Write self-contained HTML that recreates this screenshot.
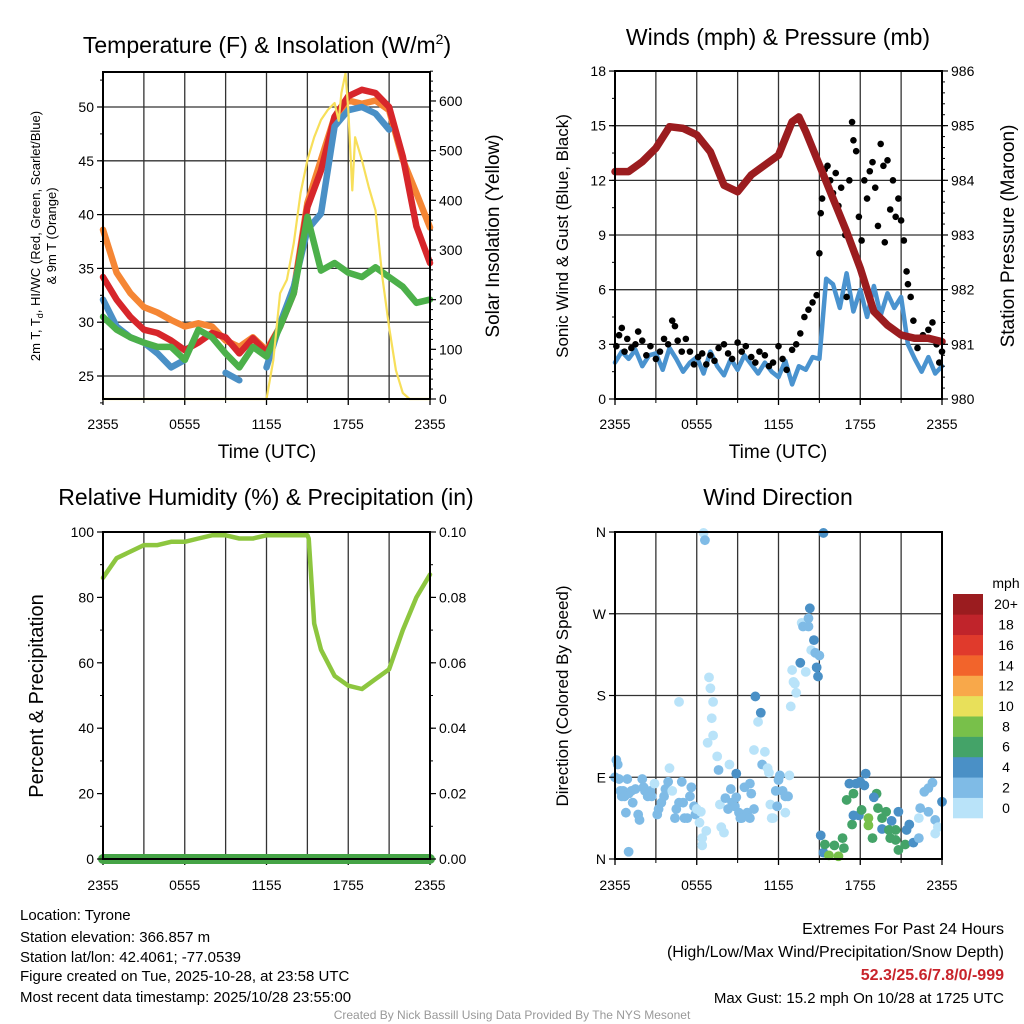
<!DOCTYPE html>
<html><head><meta charset="utf-8"><style>
html,body{margin:0;padding:0;background:#fff;}
svg{display:block;font-family:"Liberation Sans",Arial,sans-serif;}
</style></head><body>
<svg id="c" width="1024" height="1024" viewBox="0 0 1024 1024" xmlns="http://www.w3.org/2000/svg">
<rect x="0" y="0" width="1024" height="1024" fill="#fff"/>
<text x="267" y="53" font-size="23" text-anchor="middle">Temperature (F) &amp; Insolation (W/m<tspan font-size="14" dy="-9">2</tspan><tspan dy="9">)</tspan></text>
<text x="778" y="45" font-size="23" text-anchor="middle">Winds (mph) &amp; Pressure (mb)</text>
<text x="266" y="505" font-size="23" text-anchor="middle">Relative Humidity (%) &amp; Precipitation (in)</text>
<text x="778" y="505" font-size="23" text-anchor="middle">Wind Direction</text>
<text x="267" y="458" font-size="19" text-anchor="middle">Time (UTC)</text>
<text x="778" y="458" font-size="19" text-anchor="middle">Time (UTC)</text>
<text transform="translate(40,236) rotate(-90)" font-size="13" text-anchor="middle">2m T, T<tspan font-size="9" dy="3">d</tspan><tspan dy="-3">, HI/WC (Red, Green, Scarlet/Blue)</tspan></text>
<text transform="translate(56,236) rotate(-90)" font-size="13" text-anchor="middle">&amp; 9m T (Orange)</text>
<text transform="translate(499,236) rotate(-90)" font-size="19" text-anchor="middle">Solar Insolation (Yellow)</text>
<text transform="translate(568,236) rotate(-90)" font-size="17" text-anchor="middle">Sonic Wind &amp; Gust (Blue, Black)</text>
<text transform="translate(1014,236) rotate(-90)" font-size="19" text-anchor="middle">Station Pressure (Maroon)</text>
<text transform="translate(43,696) rotate(-90)" font-size="20" text-anchor="middle">Percent &amp; Precipitation</text>
<text transform="translate(568,696) rotate(-90)" font-size="17" text-anchor="middle">Direction (Colored By Speed)</text>
<g id="info" font-size="15">
<text x="20" y="920">Location: Tyrone</text>
<text x="20" y="942">Station elevation: 366.857 m</text>
<text x="20" y="962">Station lat/lon: 42.4061; -77.0539</text>
<text x="20" y="981">Figure created on Tue, 2025-10-28, at 23:58 UTC</text>
<text x="20" y="1002">Most recent data timestamp: 2025/10/28 23:55:00</text>
</g>
<g font-size="16" text-anchor="end">
<text x="1004" y="934">Extremes For Past 24 Hours</text>
<text x="1004" y="957">(High/Low/Max Wind/Precipitation/Snow Depth)</text>
<text x="1004" y="980" font-weight="bold" fill="#c8242b">52.3/25.6/7.8/0/-999</text>
<text x="1004" y="1003" font-size="15">Max Gust: 15.2 mph On 10/28 at 1725 UTC</text>
</g>
<text x="512" y="1019" font-size="12" fill="#999" text-anchor="middle">Created By Nick Bassill Using Data Provided By The NYS Mesonet</text>
</svg>
<script>
// ---- Panel 1 data ----
const tHours = [0,1,2,3,4,5,6,7,8,9,10,11,12,13,14,15,16,17,18,19,20,21,22,23,24];
const hiwcF = [34.2,32.1,30.5,29.3,29.0,28.3,27.4,28.1,29.0,28.6,27.1,28.5,27.2,29.6,32.7,40.7,44.1,49.1,51.0,51.6,51.3,50.0,45.4,38.9,35.5];
const temp9mF = [38.6,34.6,32.7,31.4,30.9,30.2,29.6,29.9,29.6,28.3,27.7,28.6,27.4,29.6,33.0,41.1,45.1,49.1,50.6,50.3,50.6,49.7,45.1,42.0,38.8];
const temp2mF = [32.1,29.6,28.6,28.1,27.1,25.8,26.5,null,null,25.3,24.6,null,25.8,29.9,33.3,38.6,40.1,48.2,49.7,50.0,49.4,47.9,null,37.0,null];
const dewF = [30.5,29.3,28.6,28.1,27.7,27.7,26.5,29.3,28.6,27.1,25.8,27.7,26.8,29.6,32.7,39.8,34.8,35.5,34.6,34.2,35.1,34.2,33.3,31.8,32.1];
const solarHours = [0,12,12.5,13,13.5,14,14.5,15,15.5,16,16.5,17,17.3,17.5,17.8,18,18.3,18.5,19,19.5,20,20.5,21,21.5,22,22.5,24];
const solarW = [0,0,78,213,240,314,415,481,527,562,582,596,560,616,656,582,420,527,481,427,380,246,145,58,12,0,0];
const tempTicks = [25,30,35,40,45,50];
const solarTicks = [0,100,200,300,400,500,600];
const timeTickLabels = ["2355","0555","1155","1755","2355"];
// ---- Panel 2 data ----
const windSpeed = [2.0,2.6,2.2,2.7,1.8,2.4,2.5,1.6,2.8,2.2,1.5,2.0,2.3,1.4,2.6,1.8,1.3,2.2,1.6,2.4,1.9,1.4,2.0,1.5,1.2,2.1,0.8,1.8,1.6,2.3,2.2,6.6,6.3,5.0,6.9,4.8,6.0,4.5,6.2,4.6,5.8,5.0,5.6,3.0,2.2,1.5,2.3,1.4,1.8];
const presHours = [0,1,2,3,4,5,6,7,8,9,10,11,12,13,13.5,14,15,16,17,18,19,20,21,22,23,24];
const pressureMb = [984.16,984.16,984.34,984.59,984.98,984.95,984.83,984.52,983.91,983.79,984.10,984.28,984.46,985.07,985.16,984.89,984.28,983.67,983.06,982.39,981.60,981.35,981.17,981.11,981.11,981.05];
const gustHours = [0.1,0.3,0.5,0.7,0.9,1.2,1.5,1.7,2.0,2.3,2.6,3.0,3.3,3.6,3.9,4.2,4.4,4.6,4.9,5.2,5.5,5.8,6.1,6.4,6.7,7.0,7.3,7.6,8.0,8.3,8.6,9.0,9.3,9.6,10.0,10.3,10.6,11.0,11.3,11.6,12.0,12.3,12.6,13.0,13.3,13.6,13.9,14.2,14.5,14.8,15.0,15.1,15.2,15.4,15.6,15.8,16.0,16.2,16.4,16.6,16.9,17.0,17.2,17.4,17.5,17.7,17.9,18.1,18.3,18.5,18.7,18.9,19.1,19.3,19.5,19.7,19.8,20.0,20.2,20.4,20.6,20.8,21.0,21.2,21.4,21.5,21.7,21.9,22.2,22.6,23.0,23.3,23.6,23.8,24.0];
const gustMph = [2.9,3.5,3.9,2.6,3.3,2.8,3.0,3.7,3.2,2.4,2.9,2.2,2.6,3.3,3.0,4.3,4.0,3.2,2.6,3.3,2.6,1.9,2.3,2.5,1.9,2.4,2.1,2.8,3.0,2.5,2.2,3.1,2.6,2.9,2.3,2.0,2.6,2.4,1.8,2.0,2.9,2.2,1.6,2.7,3.0,3.6,4.5,4.9,5.3,5.7,8.0,10.2,11.0,12.6,12.8,12.0,11.3,12.4,10.6,11.6,9.0,5.6,12.0,15.2,14.2,13.6,10.0,8.7,12.0,11.0,12.5,13.0,11.6,9.5,14.0,12.8,8.6,13.1,10.4,12.0,10.0,11.0,9.8,8.7,7.0,6.3,5.6,4.3,2.8,3.5,3.8,4.2,3.0,2.0,2.6];
const mphTicks = [0,3,6,9,12,15,18];
const presTicks = [980,981,982,983,984,985,986];
// ---- Panel 3 data ----
const rhHours = [0,1,2,3,4,5,6,7,8,9,10,11,12,13,14,15,15.1,15.5,16,17,18,19,20,21,22,23,24];
const rhPct = [86,92,94,96,96,97,97,98,99,99,98,98,99,99,99,99,98,72,64,56,53,52,55,58,70,80,87];
const precipIn = [0,0,0,0,0,0,0,0,0,0,0,0,0,0,0,0,0,0,0,0,0,0,0,0,0];
const rhTicks = [0,20,40,60,80,100];
const precipTicks = ["0.00","0.02","0.04","0.06","0.08","0.10"];
// ---- Panel 4 data ----
const dirHours = [0.0,0.1,0.2,0.3,0.4,0.5,0.6,0.7,0.8,0.9,1.0,1.0,1.2,1.3,1.5,1.7,1.8,2.0,2.1,2.2,2.4,2.6,2.7,2.9,3.1,3.2,3.4,3.6,3.7,3.9,4.0,4.2,4.4,4.5,4.7,4.7,4.9,5.0,5.1,5.3,5.5,5.6,5.8,5.9,6.0,6.2,6.3,6.5,6.6,6.9,7.0,7.2,7.1,7.2,6.8,7.5,7.6,6.4,6.4,6.7,7.7,7.8,8.0,8.1,8.3,8.5,8.6,8.8,8.9,8.9,8.4,9.1,9.2,9.3,9.5,9.7,9.9,9.9,10.0,10.2,10.3,10.7,10.5,10.2,11.0,10.8,11.2,11.3,11.4,11.5,11.6,11.8,11.9,12.0,12.1,12.3,12.5,12.5,12.7,12.8,12.9,13.0,13.1,13.3,13.6,13.7,13.8,14.2,14.3,14.2,14.6,14.4,14.7,15.0,14.8,14.9,14.0,13.2,15.3,15.1,15.3,15.4,15.7,16.4,16.1,16.7,16.8,17.4,17.0,17.5,17.2,17.7,18.0,18.4,18.3,17.9,17.5,18.1,18.6,18.6,18.9,19.2,19.0,19.3,19.6,19.9,20.3,19.6,20.1,20.6,20.2,20.6,20.8,20.8,21.3,21.4,21.6,21.9,22.3,22.4,23.0,23.3,23.0,22.7,23.5,24.0,23.7,23.5,22.3];
const dirDeg = [90,109,104,88,75,69,75,69,51,88,8,72,75,62,77,49,43,88,79,75,69,75,69,83,49,55,62,69,77,85,100,75,45,55,62,173,85,62,45,45,69,79,58,49,55,40,52,359,351,200,188,173,155,136,128,113,98,23,15,31,60,35,29,67,55,77,62,58,68,94,104,51,45,45,79,51,45,83,72,55,179,161,151,120,118,104,100,95,60,45,45,75,58,87,92,75,69,51,69,92,168,208,195,183,216,260,256,256,276,265,241,230,227,224,211,201,206,193,359,26,7,16,4,3,15,23,12,38,65,72,83,83,85,94,81,48,48,54,45,37,23,72,68,56,45,52,42,33,32,32,23,21,52,10,16,32,38,18,23,56,52,84,78,74,43,63,35,28,45];
const dirSpeed = [3,3,3,3,3,3,3,3,3,3,3,3,3,3,3,3,3,3,3,3,3,3,3,1,3,3,3,3,3,3,1,1,3,3,3,1,3,3,3,3,3,3,3,3,1,1,1,1,3,1,1,1,1,1,1,1,3,1,1,1,1,1,1,3,3,3,3,3,3,5,1,3,3,3,3,3,3,3,3,3,5,5,1,1,1,3,1,1,1,1,1,3,3,3,3,3,3,1,3,1,1,1,1,1,5,1,3,3,5,3,5,1,3,3,5,5,1,1,5,5,5,7,9,9,7,7,7,7,7,7,5,5,5,5,5,5,5,7,9,9,7,7,5,7,7,7,5,5,7,7,7,7,5,7,7,5,5,5,3,3,3,3,3,3,3,5,1,1,1];
const dirTickLabels = ["N","E","S","W","N"];
const speedBins = ["0","2","4","6","8","10","12","14","16","18","20+"];
const speedColors = ["#b9e3f9","#7fbbe6","#4a90c6","#44a368","#78c04a","#e8e05a","#f8a84a","#f2642b","#e03a2c","#c0242b","#9b1c1f"];

const NS = "http://www.w3.org/2000/svg";
const svg = document.getElementById("c");
function mk(tag, attrs, parent) {
  const e = document.createElementNS(NS, tag);
  for (const k in attrs) e.setAttribute(k, attrs[k]);
  (parent || svg).appendChild(e);
  return e;
}
function txt(x, y, s, size, anchor, parent) {
  const t = mk("text", {x: x, y: y, "font-size": size, "text-anchor": anchor}, parent);
  t.textContent = s;
  return t;
}
const P1 = {x0:103, x1:430, y0:72, y1:399};
const P2 = {x0:615, x1:942, y0:71, y1:399};
const P3 = {x0:103, x1:430, y0:532, y1:859};
const P4 = {x0:615, x1:942, y0:532, y1:859};
function xs(P, h) { return P.x0 + h * (P.x1 - P.x0) / 24; }
const yTemp = v => 107 + (50 - v) * 10.76;
const ySolar = v => 399 - v * 0.4967;
const yMph = v => 399 - v * 18.22;
const yPres = v => 399 - (v - 980) * 54.67;
const yRH = v => 859 - v * 3.27;
const yPrecip = v => 859 - v * 3270;
const yDir = v => 859 - v * 0.9083;

function frame(P, name, hLines, tickY) {
  const g = mk("g", {});
  
  
  for (let h = 3; h < 24; h += 3) {
    const x = xs(P, h);
    mk("line", {x1:x, x2:x, y1:P.y0, y2:P.y1, stroke:"#333", "stroke-width":1.3}, g);
  }
  hLines.forEach(y => mk("line", {x1:P.x0, x2:P.x1, y1:y, y2:y, stroke:"#333", "stroke-width":1.3}, g));
  const lab = mk("g", {"font-size":14, "text-anchor":"middle"});
  
  
  timeTickLabels.forEach((s, i) => {
    const x = xs(P, i * 6);
    mk("line", {x1:x, x2:x, y1:P.y1, y2:P.y1 + 6, stroke:"#000", "stroke-width":1.3}, g);
    txt(x, tickY, s, 14, "middle", lab);
  });
  for (let h = 3; h < 24; h += 6) { const x = xs(P, h); mk("line", {x1:x, x2:x, y1:P.y1, y2:P.y1 + 4, stroke:"#000"}, g); }
}
function border(P, name) {
  const r = mk("rect", {x:P.x0, y:P.y0, width:P.x1 - P.x0, height:P.y1 - P.y0, fill:"none", stroke:"#000", "stroke-width":2});
  
  
}
function yAxis(P, side, vals, labels, fn, name, minorVals) {
  const g = mk("g", {"font-size":14});
  
  
  const x = side === "l" ? P.x0 : P.x1;
  const d = side === "l" ? -1 : 1;
  vals.forEach((v, i) => {
    const y = fn(v);
    mk("line", {x1:x, x2:x + d * 6, y1:y, y2:y, stroke:"#000", "stroke-width":1.2}, g);
    txt(x + d * 9, y + 5, labels[i], 14, side === "l" ? "end" : "start", g);
  });
  (minorVals || []).forEach(v => { const y = fn(v); mk("line", {x1:x, x2:x + d * 3, y1:y, y2:y, stroke:"#000"}, g); });
}
function path(P, hours, vals, fn, color, w, name) {
  let d = "", pen = false;
  hours.forEach((h, i) => {
    const v = vals[i];
    if (v === null || v === undefined) { pen = false; return; }
    d += (pen ? "L" : "M") + xs(P, h).toFixed(1) + "," + fn(v).toFixed(1);
    pen = true;
  });
  const p = mk("path", {d:d, fill:"none", stroke:color, "stroke-width":w, "stroke-linejoin":"round", "stroke-linecap":"round"});
  
  
}
function range(a, b, s) { const r = []; for (let v = a; v <= b + 1e-9; v += s) r.push(+v.toFixed(3)); return r; }

// Panel 1
frame(P1, "temp-panel", tempTicks.map(yTemp), 429);
path(P1, tHours, temp9mF, yTemp, "#f58634", 6.5, "temp-9m-line");
path(P1, tHours, hiwcF, yTemp, "#d7262b", 6.5, "hiwc-line");
path(P1, tHours, temp2mF, yTemp, "#4a90c6", 6.5, "temp-2m-line");
path(P1, tHours, dewF, yTemp, "#4cb04a", 6.5, "dewpoint-line");
path(P1, solarHours, solarW, ySolar, "#f7df5a", 2.2, "solar-line");
border(P1, "temp-panel");
yAxis(P1, "l", tempTicks, tempTicks.map(String), yTemp, "temp-y-axis", range(22.5, 52.5, 2.5));
yAxis(P1, "r", solarTicks, solarTicks.map(String), ySolar, "solar-y-axis", range(0, 660, 20));

// Panel 2
frame(P2, "wind-panel", mphTicks.slice(1, 6).map(yMph), 429);
path(P2, windSpeed.map((v, i) => i * 0.5), windSpeed, yMph, "#4a93cf", 4.5, "wind-speed-line");
const gg = mk("g", {fill:"#000"});


gustHours.forEach((h, i) => {
  const c = mk("circle", {cx:xs(P2, h), cy:yMph(gustMph[i]), r:3.3}, gg);
  
  
});
path(P2, presHours, pressureMb, yPres, "#9b1c1f", 7.5, "pressure-line");
border(P2, "wind-panel");
yAxis(P2, "l", mphTicks, mphTicks.map(String), yMph, "mph-y-axis", range(0, 18, 1.5));
yAxis(P2, "r", presTicks, presTicks.map(String), yPres, "pressure-y-axis", range(980, 986, 0.2));

// Panel 3
frame(P3, "rh-panel", [], 890);
path(P3, rhHours, rhPct, yRH, "#8dc63f", 4.5, "rh-line");
path(P3, tHours, precipIn, yPrecip, "#45a446", 10, "precip-line");
border(P3, "rh-panel");
yAxis(P3, "l", rhTicks, rhTicks.map(String), yRH, "rh-y-axis", range(0, 100, 10));
yAxis(P3, "r", rhTicks, precipTicks, yRH, "precip-y-axis", range(0, 100, 10));

// Panel 4
frame(P4, "wdir-panel", [90, 180, 270].map(yDir), 890);
const dg = mk("g", {});


dirHours.forEach((h, i) => {
  const bin = Math.min(10, Math.floor(dirSpeed[i] / 2));
  const c = mk("circle", {cx:xs(P4, h), cy:yDir(dirDeg[i]), r:4.9, fill:speedColors[bin]}, dg);
  
  
});
border(P4, "wdir-panel");
yAxis(P4, "l", [0, 90, 180, 270, 360], dirTickLabels, yDir, "direction-y-axis", []);

// Colorbar
const cb = mk("g", {});


txt(1006, 588, "mph", 14, "middle", cb);
const boxH = (818 - 594) / speedBins.length;
speedBins.forEach((s, i) => {
  const y = 818 - (i + 1) * boxH;
  const r = mk("rect", {x:953, y:y, width:30, height:boxH + 0.3, fill:speedColors[i]}, cb);
  
  
  txt(1006, y + boxH / 2 + 5, s, 14, "middle", cb);
});
</script>
</body></html>
